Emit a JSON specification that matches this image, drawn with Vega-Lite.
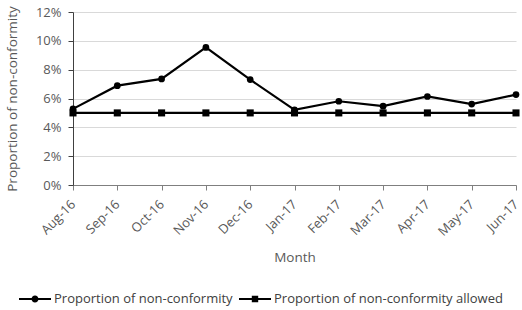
{
  "$schema": "https://vega.github.io/schema/vega-lite/v6.json",
  "width": 443,
  "height": 173,
  "autosize": {"type": "none"},
  "padding": {"left": 73, "top": 12, "right": 6, "bottom": 125},
  "background": "white",
  "config": {
    "view": {"stroke": null},
    "font": "Open Sans",
    "axis": {"labelColor": "#595959", "titleColor": "#595959", "labelFont": "Open Sans", "titleFont": "Open Sans", "titleFontWeight": "normal", "labelFontSize": 13, "titleFontSize": 13.5}
  },
  "data": {
    "values": [
      {"month": "Aug-16", "series": "Proportion of non-conformity", "value": 0.0528},
      {"month": "Sep-16", "series": "Proportion of non-conformity", "value": 0.0689},
      {"month": "Oct-16", "series": "Proportion of non-conformity", "value": 0.0736},
      {"month": "Nov-16", "series": "Proportion of non-conformity", "value": 0.0954},
      {"month": "Dec-16", "series": "Proportion of non-conformity", "value": 0.0731},
      {"month": "Jan-17", "series": "Proportion of non-conformity", "value": 0.0521},
      {"month": "Feb-17", "series": "Proportion of non-conformity", "value": 0.0581},
      {"month": "Mar-17", "series": "Proportion of non-conformity", "value": 0.0547},
      {"month": "Apr-17", "series": "Proportion of non-conformity", "value": 0.0614},
      {"month": "May-17", "series": "Proportion of non-conformity", "value": 0.0561},
      {"month": "Jun-17", "series": "Proportion of non-conformity", "value": 0.0627},
      {"month": "Aug-16", "series": "Proportion of non-conformity allowed", "value": 0.05},
      {"month": "Sep-16", "series": "Proportion of non-conformity allowed", "value": 0.05},
      {"month": "Oct-16", "series": "Proportion of non-conformity allowed", "value": 0.05},
      {"month": "Nov-16", "series": "Proportion of non-conformity allowed", "value": 0.05},
      {"month": "Dec-16", "series": "Proportion of non-conformity allowed", "value": 0.05},
      {"month": "Jan-17", "series": "Proportion of non-conformity allowed", "value": 0.05},
      {"month": "Feb-17", "series": "Proportion of non-conformity allowed", "value": 0.05},
      {"month": "Mar-17", "series": "Proportion of non-conformity allowed", "value": 0.05},
      {"month": "Apr-17", "series": "Proportion of non-conformity allowed", "value": 0.05},
      {"month": "May-17", "series": "Proportion of non-conformity allowed", "value": 0.05},
      {"month": "Jun-17", "series": "Proportion of non-conformity allowed", "value": 0.05}
    ]
  },
  "encoding": {
    "x": {
      "field": "month", "type": "ordinal", "sort": null,
      "scale": {"type": "point", "padding": 0},
      "axis": {"title": "Month", "labelAngle": -45, "labelAlign": "right", "labelBaseline": "middle", "grid": false, "domainColor": "#7f7f7f", "tickColor": "#7f7f7f", "tickSize": 5, "labelPadding": 12, "titleY": 65}
    },
    "y": {
      "field": "value", "type": "quantitative",
      "scale": {"domain": [0, 0.12], "nice": false},
      "axis": {"title": "Proportion of non-conformity", "format": ".0%", "values": [0, 0.02, 0.04, 0.06, 0.08, 0.1, 0.12], "gridColor": "#d9d9d9", "domainColor": "#404040", "tickColor": "#404040", "tickSize": 5, "labelPadding": 7, "titleX": -54}
    }
  },
  "layer": [
    {
      "mark": {"type": "line", "color": "black", "strokeWidth": 2.2},
      "encoding": {"detail": {"field": "series"}}
    },
    {
      "transform": [{"filter": "datum.series === 'Proportion of non-conformity'"}],
      "mark": {"type": "point", "filled": true, "color": "black", "opacity": 1, "size": 45, "shape": "circle"}
    },
    {
      "transform": [{"filter": "datum.series === 'Proportion of non-conformity allowed'"}],
      "mark": {"type": "point", "filled": true, "color": "black", "opacity": 1, "size": 50, "shape": "square"}
    },
    {
      "mark": {"type": "point", "filled": true, "color": "black", "opacity": 0, "size": 1024},
      "encoding": {
        "shape": {
          "field": "series", "type": "nominal",
          "scale": {"domain": ["Proportion of non-conformity", "Proportion of non-conformity allowed"], "range": ["M-1,-0.07H1V0.07H-1ZM-0.22,0A0.22,0.22 0 1,1 0.22,0A0.22,0.22 0 1,1 -0.22,0Z", "M-1,-0.07H1V0.07H-1ZM-0.2,-0.2H0.2V0.2H-0.2Z"]},
          "legend": {
            "orient": "none", "legendX": -55, "legendY": 270, "title": null, "direction": "horizontal", "padding": 0,
            "labelFontSize": 13, "labelColor": "#404040", "labelFont": "Open Sans", "labelLimit": 400,
            "symbolSize": 1024, "symbolFillColor": "black", "symbolOpacity": 1,
            "labelOffset": 2, "columnPadding": 3
          }
        }
      }
    }
  ]
}
